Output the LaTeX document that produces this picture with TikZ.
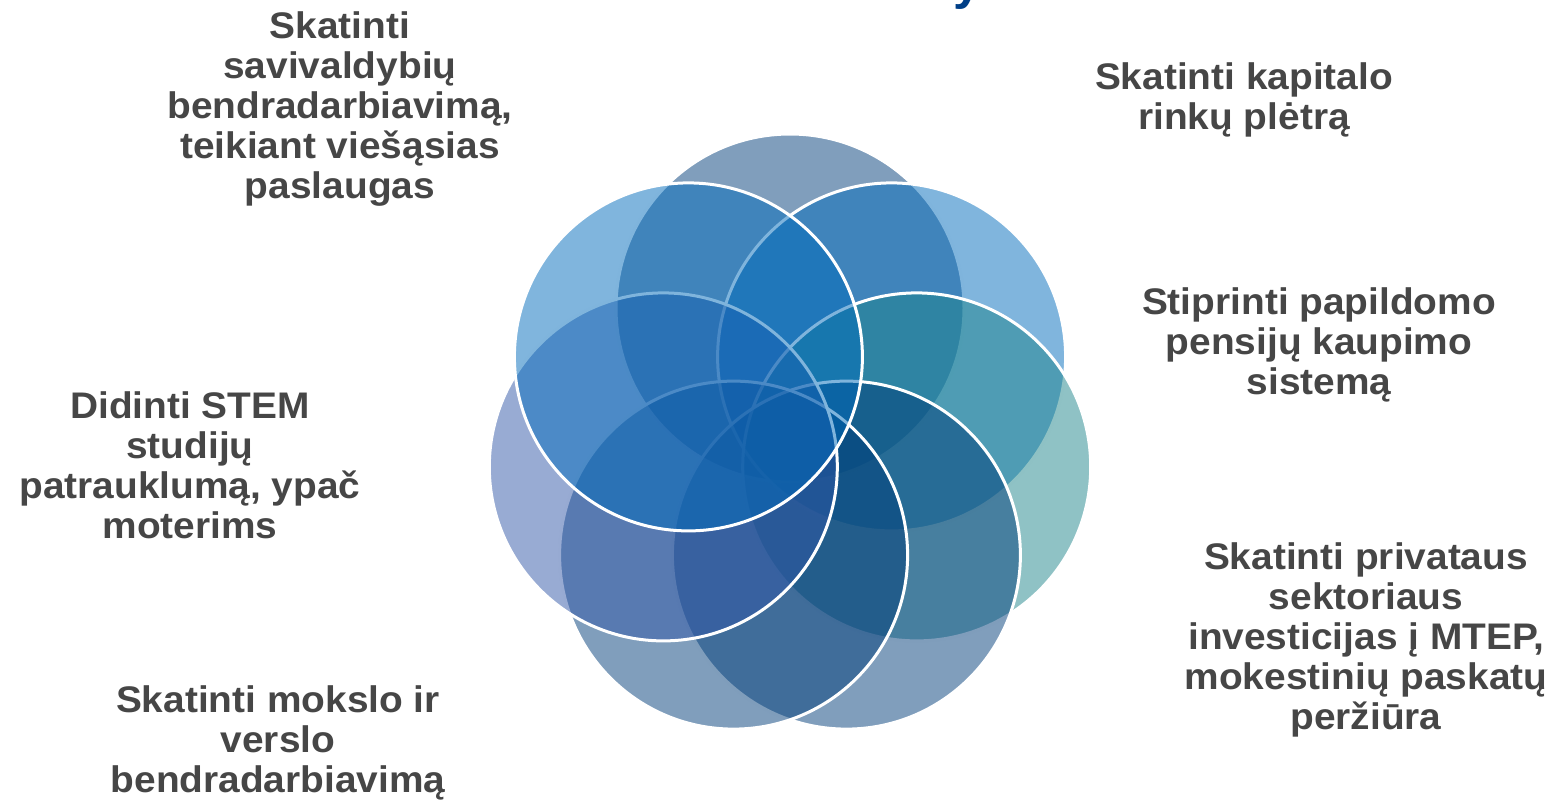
\documentclass[tikz,border=0pt]{standalone}
\usepackage{fontspec}
\setmainfont{Liberation Sans}[FakeStretch=1.05]
\definecolor{ctop}{RGB}{1,61,121}
\definecolor{cur}{RGB}{1,107,187}
\definecolor{cr}{RGB}{31,133,139}
\definecolor{cl}{RGB}{49,87,167}
\definecolor{txt}{RGB}{70,70,70}
\definecolor{ttl}{RGB}{0,63,135}
\begin{document}
\begin{tikzpicture}[x=1pt,y=-1pt,
  ring/.style={circle, minimum size=348pt, inner sep=0pt, outer sep=0pt, draw=white, line width=3pt, fill opacity=0.5},
  lab/.style={align=center, font=\fontsize{37}{40}\selectfont\bfseries, text=txt, inner sep=0pt}]
\useasboundingbox (0,0) rectangle (1559,801);
\clip (0,0) rectangle (1559,801);
\node[ring, fill=ctop] (c1) at (790,308) {};
\node[ring, fill=cur]  (c2) at (891.6,356.9) {};
\node[ring, fill=cr]   (c3) at (916.7,466.9) {};
\node[ring, fill=ctop] (c4) at (846.4,555.1) {};
\node[ring, fill=ctop] (c5) at (733.6,555.1) {};
\node[ring, fill=cl]   (c6) at (663.3,466.9) {};
\node[ring, fill=cur]  (c7) at (688.4,356.9) {};
\node[font=\fontsize{48}{60}\selectfont\bfseries, text=ttl, inner sep=0pt, anchor=base] (title) at (968,-1) {y};
% anchor=base is the baseline of the last line
\node[lab, anchor=base] (t1) at (340,198) {Skatinti\\savivaldybių\\bendradarbiavimą,\\teikiant viešąsias\\paslaugas};
\node[lab, anchor=base] (t2) at (1244,129) {Skatinti kapitalo\\rinkų plėtrą};
\node[lab, anchor=base] (t3) at (1319,394) {Stiprinti papildomo\\pensijų kaupimo\\sistemą};
\node[lab, anchor=base] (t4) at (1366,729) {Skatinti privataus\\sektoriaus\\investicijas į MTEP,\\mokestinių paskatų\\peržiūra};
\node[lab, anchor=base] (t5) at (190,538) {Didinti STEM\\studijų\\patrauklumą, ypač\\moterims};
\node[lab, anchor=base] (t6) at (278,792) {Skatinti mokslo ir\\verslo\\bendradarbiavimą};
\end{tikzpicture}
\end{document}
